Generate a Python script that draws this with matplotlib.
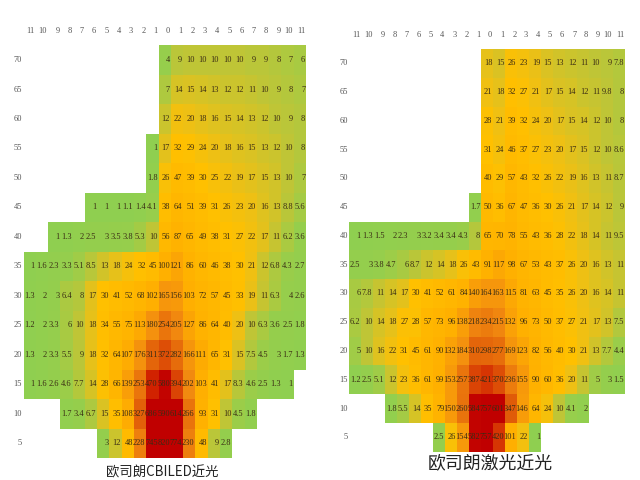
import matplotlib
matplotlib.use('Agg')
import matplotlib.pyplot as plt
from matplotlib.colors import LinearSegmentedColormap, LogNorm
import numpy as np

plt.rcParams['font.family'] = ['Noto Sans CJK SC', 'DejaVu Sans']

W, H = 640, 480
_ = None

COL_LABELS = [11, 10, 9, 8, 7, 6, 5, 4, 3, 2, 1, 0, 1, 2, 3, 4, 5, 6, 7, 8, 9, 10, 11]
ROW_LABELS = [70, 65, 60, 55, 50, 45, 40, 35, 30, 25, 20, 15, 10, 5]

# Candela values. Columns run 11 .. 0 .. 11, rows 70 .. 5
cbiled = [
    [_, _, _, _, _, _, _, _, _, _, _, 4, 9, 10, 10, 10, 10, 10, 9, 9, 8, 7, 6],
    [_, _, _, _, _, _, _, _, _, _, _, 7, 14, 15, 14, 13, 12, 12, 11, 10, 9, 8, 7],
    [_, _, _, _, _, _, _, _, _, _, _, 12, 22, 20, 18, 16, 15, 14, 13, 12, 10, 9, 8],
    [_, _, _, _, _, _, _, _, _, _, 1, 17, 32, 29, 24, 20, 18, 16, 15, 13, 12, 10, 8],
    [_, _, _, _, _, _, _, _, _, _, 1.8, 26, 47, 39, 30, 25, 22, 19, 17, 15, 13, 10, 7],
    [_, _, _, _, _, 1, 1, 1, 1.1, 1.4, 4.1, 38, 64, 51, 39, 31, 26, 23, 20, 16, 13, 8.8, 5.6],
    [_, _, 1, 1.3, 2, 2.5, 3, 3.5, 3.8, 5.3, 10, 56, 87, 65, 49, 38, 31, 27, 22, 17, 11, 6.2, 3.6],
    [1, 1.6, 2.3, 3.3, 5.1, 8.5, 13, 18, 24, 32, 45, 100, 121, 86, 60, 46, 38, 30, 21, 12, 6.8, 4.3, 2.7],
    [1.3, 2, 3, 6.4, 8, 17, 30, 41, 52, 68, 102, 165, 156, 103, 72, 57, 45, 33, 19, 11, 6.3, 4, 2.6],
    [1.2, 2, 3.3, 6, 10, 18, 34, 55, 75, 113, 180, 254, 205, 127, 86, 64, 40, 20, 10, 6.3, 3.6, 2.5, 1.8],
    [1.3, 2, 3.3, 5.5, 9, 18, 32, 64, 107, 176, 311, 372, 282, 166, 111, 65, 31, 15, 7.5, 4.5, 3, 1.7, 1.3],
    [1, 1.6, 2.6, 4.6, 7.7, 14, 28, 66, 139, 253, 470, 580, 394, 202, 103, 41, 17, 8.3, 4.6, 2.5, 1.3, 1, _],
    [_, _, _, 1.7, 3.4, 6.7, 15, 35, 108, 327, 686, 590, 614, 266, 93, 31, 10, 4.5, 1.8, _, _, _, _],
    [_, _, _, _, _, _, 3, 12, 48, 228, 745, 820, 774, 230, 48, 9, 2.8, _, _, _, _, _, _],
]

laser = [
    [_, _, _, _, _, _, _, _, _, _, _, 18, 15, 26, 23, 19, 15, 13, 12, 11, 10, 9, 7.8],
    [_, _, _, _, _, _, _, _, _, _, _, 21, 18, 32, 27, 21, 17, 15, 14, 12, 11, 9.8, 8],
    [_, _, _, _, _, _, _, _, _, _, _, 28, 21, 39, 32, 24, 20, 17, 15, 14, 12, 10, 8],
    [_, _, _, _, _, _, _, _, _, _, _, 31, 24, 46, 37, 27, 23, 20, 17, 15, 12, 10, 8.6],
    [_, _, _, _, _, _, _, _, _, _, _, 40, 29, 57, 43, 32, 26, 22, 19, 16, 13, 11, 8.7],
    [_, _, _, _, _, _, _, _, _, _, 1.7, 50, 36, 67, 47, 36, 30, 26, 21, 17, 14, 12, 9],
    [1, 1.3, 1.5, 2, 2.3, 3, 3.2, 3.4, 3.4, 4.3, 8, 65, 70, 78, 55, 43, 36, 28, 22, 18, 14, 11, 9.5],
    [2.5, 3, 3.8, 4.7, 6, 8.7, 12, 14, 18, 26, 43, 91, 117, 98, 67, 53, 43, 37, 26, 20, 16, 13, 11],
    [6, 7.8, 11, 14, 17, 30, 41, 52, 61, 84, 140, 164, 163, 115, 81, 63, 45, 35, 26, 20, 16, 14, 11],
    [6.2, 10, 14, 18, 27, 28, 57, 73, 96, 138, 218, 234, 215, 132, 96, 73, 50, 37, 27, 21, 17, 13, 7.5],
    [5, 10, 16, 22, 31, 45, 61, 90, 132, 184, 310, 298, 277, 169, 123, 82, 56, 40, 30, 21, 13, 7.7, 4.4],
    [1.2, 2.5, 5.1, 12, 23, 36, 61, 99, 153, 257, 387, 421, 370, 236, 155, 90, 60, 36, 20, 11, 5, 3, 1.5],
    [_, _, _, 1.8, 5.5, 14, 35, 79, 150, 260, 584, 757, 601, 347, 146, 64, 24, 10, 4.1, 2, _, _, _],
    [_, _, _, _, _, _, _, 2.5, 26, 154, 582, 757, 420, 101, 22, 1, _, _, _, _, _, _, _],
]

CAPTIONS = ['欧司朗CBILED近光', '欧司朗激光近光']

# green -> amber -> dark red, on a log scale
stops = [(1, '#8fcf50'), (4, '#96ce4c'), (10, '#bfc536'), (20, '#eec014'), (30, '#ffc000'),
         (100, '#ffb000'), (200, '#f28c10'), (350, '#e05a08'), (480, '#d02000'), (600, '#c00000'),
         (850, '#c00000')]
vmin, vmax = stops[0][0], stops[-1][0]
log_pos = [np.log(s[0] / vmin) / np.log(vmax / vmin) for s in stops]
cmap = LinearSegmentedColormap.from_list('lamp', list(zip(log_pos, [s[1] for s in stops])))
norm = LogNorm(vmin=vmin, vmax=vmax)

fig = plt.figure(figsize=(W / 100, H / 100), dpi=100)


def draw_panel(rows, left, right, top, bottom, caption, cap_x, cap_y, cap_size):
    ax = fig.add_axes([left / W, 1 - bottom / H, (right - left) / W, (bottom - top) / H])
    values = np.array([[np.nan if v is None else v for v in r] for r in rows], dtype=float)
    ax.pcolormesh(np.ma.masked_invalid(values), cmap=cmap, norm=norm)
    ax.set_xlim(0, len(COL_LABELS))
    ax.set_ylim(len(ROW_LABELS), 0)
    ax.axis('off')
    # Numbers sit against the right side of each cell, like the spreadsheet
    for i, row in enumerate(rows):
        for j, v in enumerate(row):
            if v is not None:
                ax.text(j + 0.93, i + 0.5, f'{v:g}', ha='right', va='center', size=6,
                        family='Liberation Serif', color='#3a2c14')
    for j, c in enumerate(COL_LABELS):
        ax.text(j + 0.93, -0.5, str(c), ha='right', va='center', size=6,
                family='Liberation Serif', color='#555555', clip_on=False)
    for i, r in enumerate(ROW_LABELS):
        ax.text(-0.12, i + 0.5, str(r), ha='right', va='center', size=6,
                family='Liberation Serif', color='#555555', clip_on=False)
    fig.text(cap_x / W, 1 - cap_y / H, caption, ha='center', va='center',
             size=cap_size, color='#222222')


draw_panel(cbiled, 23.5, 306, 45.3, 458, CAPTIONS[0], 162, 472, 9.6)
draw_panel(laser, 349.3, 625, 49, 451.7, CAPTIONS[1], 490, 463, 12.9)

fig.savefig('out.png', dpi=100)
